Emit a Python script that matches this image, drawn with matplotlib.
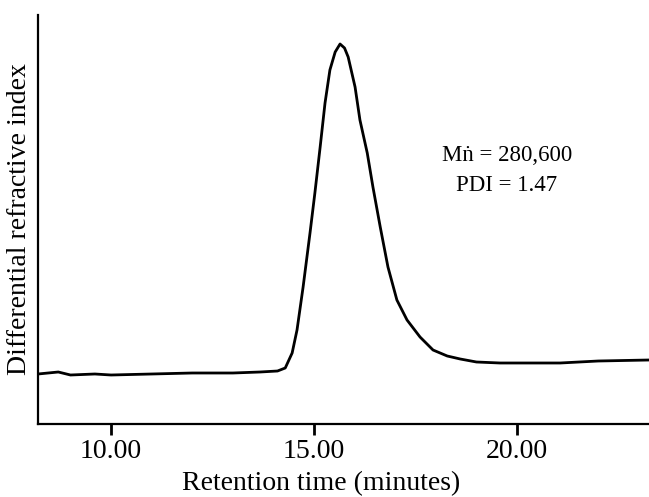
import matplotlib
matplotlib.use("Agg")
import matplotlib.pyplot as plt

# Retention time (minutes) and differential RI signal (arbitrary units)
time_min = [8.20, 8.7, 9.0, 9.6, 10.0, 11.0, 12.0, 13.0, 13.67, 14.1, 14.29, 14.46, 14.58,
            14.73, 14.90, 15.02, 15.15, 15.27, 15.39, 15.52, 15.64, 15.75, 15.84,
            16.01, 16.13, 16.31, 16.45, 16.63, 16.82, 17.04, 17.29, 17.61, 17.93,
            18.28, 18.60, 19.0, 19.58, 20.0, 21.06, 22.0, 23.25]
signal = [50, 52, 49, 50, 49, 50, 51, 51, 52, 53, 56, 71, 94,
          137, 191, 231, 277, 321, 354, 372, 380, 376, 367,
          337, 304, 271, 237, 197, 157, 124, 104, 87, 74,
          68, 65, 62, 61, 61, 61, 63, 64]

xticks = [10.0, 15.0, 20.0]
xticklabels = ["10.00", "15.00", "20.00"]
annot_lines = ["M\u1e45 = 280,600", "PDI = 1.47"]

plt.rcParams['font.family'] = ['Liberation Serif', 'DejaVu Serif']

fig = plt.figure(figsize=(6.49, 4.97), dpi=100)
ax = fig.add_axes([38/649, 1-424/497, 1-38/649, (424-15)/497])

ax.plot(time_min, signal, color='black', lw=2.0, solid_joinstyle='round')

ax.set_xlim(8.2, 23.25)
ax.set_ylim(0, 409)
ax.set_xticks(xticks)
ax.set_xticklabels(xticklabels, fontsize=20)
ax.set_yticks([])
ax.tick_params(axis='x', direction='out', length=8, width=2, pad=3)
for side in ['top', 'right']:
    ax.spines[side].set_visible(False)
for side in ['left', 'bottom']:
    ax.spines[side].set_linewidth(1.6)

ax.set_xlabel("Retention time (minutes)", fontsize=20, labelpad=1)
ax.xaxis.set_label_coords((321-38)/611, -0.115)
ax.set_ylabel("Differential refractive index", fontsize=20, labelpad=4)

ax.text(19.75, 269, annot_lines[0], fontsize=16.5, ha='center', va='center')
ax.text(19.75, 239, annot_lines[1], fontsize=16.5, ha='center', va='center')

fig.savefig("out.png", dpi=100)
